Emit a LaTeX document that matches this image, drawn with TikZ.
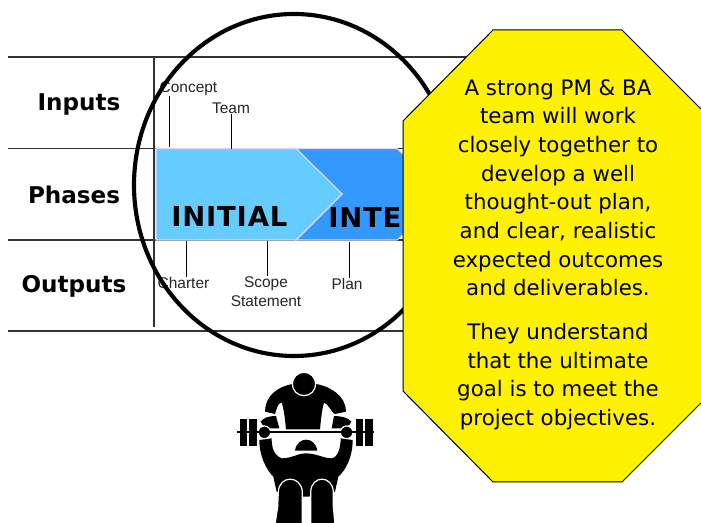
\documentclass[tikz,border=0pt]{standalone}
\usepackage{fontspec}
\setmainfont{DejaVu Sans}
\setsansfont{Liberation Sans}
\newfontfamily\phasefont[LetterSpace=3]{DejaVu Sans Bold}
\definecolor{phaseone}{HTML}{66CCFF}
\definecolor{phasetwo}{HTML}{3399FF}
\begin{document}
\begin{tikzpicture}[x=0.75pt, y=-0.75pt]
       \tikzset{
         rowline/.style={draw=black!80, line width=1pt},
         rowlabel/.style={font=\fontsize{17.3}{20}\selectfont\bfseries, inner sep=0pt},
         smalllabel/.style={font=\sffamily\fontsize{11.6}{14.3}\selectfont, align=center, inner sep=0pt, text=black!85},
         phaselabel/.style={font=\phasefont\fontsize{20.6}{24}\selectfont, anchor=base west, inner sep=0pt},
         tick/.style={draw=black, line width=0.75pt},
         chevron/.style={draw=white!85!blue, line width=0.8pt},
         calloutline/.style={font=\fontsize{16}{21.5}\selectfont, align=center, anchor=north, inner sep=0pt},
         ink/.style={fill=black, draw=none},
         cutout/.style={fill=black, draw=white, line width=0.9pt}
       }
       \clip (0,0) rectangle (701,523);
       \fill[white] (0,0) rectangle (701,523);
       % table
       \coordinate (topleft) at (8,57);
       \coordinate (topright) at (480,57);
       \coordinate (upleft) at (8,148.5);
       \coordinate (upright) at (410,148.5);
       \coordinate (lowleft) at (8,240);
       \coordinate (lowright) at (410,240);
       \coordinate (botleft) at (8,331);
       \coordinate (botright) at (410,331);
       \coordinate (coltop) at (154,58);
       \coordinate (colbot) at (154,327);
       \draw[rowline] (topleft) -- (topright);
       \draw[rowline] (upleft) -- (upright);
       \draw[rowline] (lowleft) -- (lowright);
       \draw[rowline] (botleft) -- (botright);
       \draw[rowline] (coltop) -- (colbot);
       \node[rowlabel] (inputs) at (79,104) {Inputs};
       \node[rowlabel] (phases) at (74,195) {Phases};
       \node[rowlabel] (outputs) at (74,286) {Outputs};
       % phases
       \filldraw[chevron, fill=phasetwo] (296,148.5) -- (397,148.5) -- (420,170) -- (420,220) -- (397,240) -- (296,240) -- (342,194) -- cycle;
       \filldraw[chevron, fill=phaseone] (156,148.5) -- (296,148.5) -- (342,194) -- (296,240) -- (156,240) -- cycle;
       \node[phaselabel] (initial) at (171,227) {INITIAL};
       \node[phaselabel] (inter) at (328,228) {INTER};
       % inputs, outputs
       \node[smalllabel] (concept) at (188.5,89) {Concept};
       \node[smalllabel] (team) at (231,108.5) {Team};
       \node[smalllabel] (charter) at (183.5,283) {Charter};
       \node[smalllabel] (scope) at (266,291.5) {Scope\\Statement};
       \node[smalllabel] (plan) at (347,284) {Plan};
       \coordinate (conceptend) at (169.5,147.5);
       \coordinate (teamend) at (231.5,149);
       \coordinate (charterend) at (186,241);
       \coordinate (scopeend) at (267.5,241);
       \coordinate (planend) at (349,242);
       \draw[tick] (concept.south -| conceptend) -- (conceptend);
       \draw[tick] (team.south -| teamend) -- (teamend);
       \draw[tick] (charterend) -- (charter.north -| charterend);
       \draw[tick] (scopeend) -- (scope.north -| scopeend);
       \draw[tick] (planend) -- (plan.north -| planend);
       % lens
       \draw[line width=3.1pt] (294,185) ellipse (160 and 171);
       % callout
       \filldraw[fill=yellow, draw=black, line width=0.75pt] (493,30) -- (622,30) -- (713,121) -- (713,391) -- (622,482) -- (493,482) -- (403,391) -- (403,121) -- cycle;
       \node[calloutline] (calloutone) at (558,79) {A strong PM \& BA\\team will work\\closely together to\\develop a well\\thought-out plan,\\and clear, realistic\\expected outcomes\\and deliverables.};
       \node[calloutline] (callouttwo) at (558,323) {They understand\\that the ultimate\\goal is to meet the\\project objectives.};
       % lifter
       \begin{scope}[shift={(220,360)}, scale=1/3]
         \fill[ink] (60,178) rectangle (80,258);
         \fill[ink] (88,178) rectangle (110,258);
         \fill[ink] (408,178) rectangle (428,258);
         \fill[ink] (435,178) rectangle (458,258);
         \fill[ink] (118,240) .. controls (118,290) and (140,330) .. (160,350) -- (170,395) -- (250,410) -- (265,410) -- (345,395) -- (355,350) .. controls (378,330) and (398,290) .. (398,240) -- (362,235) .. controls (362,260) and (355,292) .. (335,295) .. controls (310,295) and (290,280) .. (255,280) .. controls (235,280) and (215,295) .. (185,295) .. controls (160,285) and (155,260) .. (155,235) -- cycle;
         \fill[ink] (225,272) .. controls (232,228) and (285,228) .. (292,272) -- cycle;
         \filldraw[cutout] (165,495) -- (173,440) -- (175,395) .. controls (178,345) and (243,345) .. (247,395) -- (247,495) -- cycle;
         \filldraw[cutout] (345,495) -- (340,440) -- (340,395) .. controls (337,345) and (275,345) .. (272,395) -- (272,495) -- cycle;
         \fill[ink] (135,155) .. controls (135,110) and (170,80) .. (218,72) -- (288,72) .. controls (335,80) and (378,110) .. (378,155) -- (345,162) .. controls (335,160) and (325,130) .. (312,128) .. controls (305,150) and (302,190) .. (300,208) -- (198,208) .. controls (196,190) and (193,150) .. (185,128) .. controls (172,128) and (170,150) .. (165,162) -- cycle;
         \filldraw[cutout] (252,72) circle (35);
         \fill[ink] (122,185) .. controls (130,172) and (150,168) .. (168,168) -- (178,205) -- (150,205) -- (128,195) -- cycle;
         \fill[ink] (394,185) .. controls (385,172) and (360,168) .. (342,168) -- (335,205) -- (365,205) -- (388,195) -- cycle;
         \filldraw[cutout] (133,217) circle (19);
         \filldraw[cutout] (380,217) circle (19);
         \fill[ink] (52,214.5) rectangle (462,219.5);
       \end{scope}
   \end{tikzpicture}
\end{document}
